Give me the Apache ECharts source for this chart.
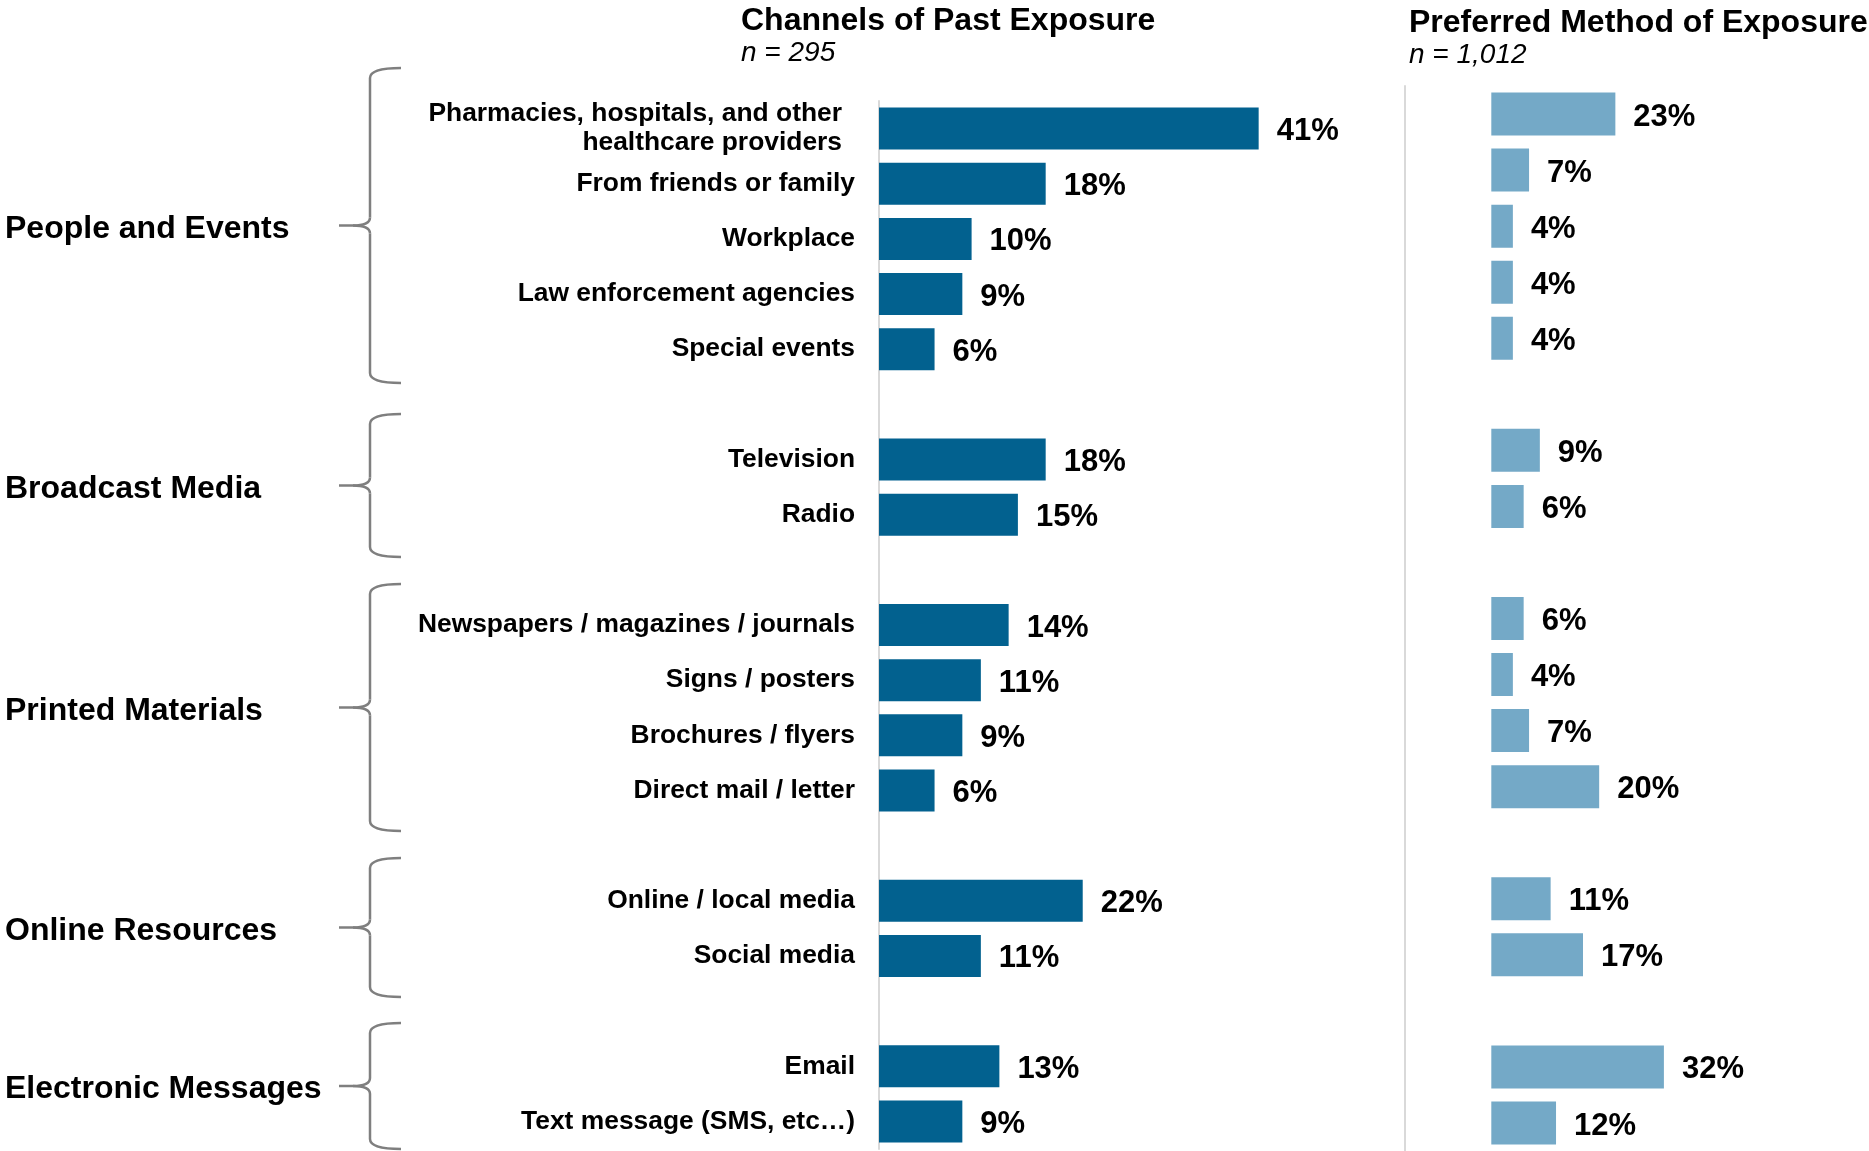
<!DOCTYPE html>
<html>
<head>
<meta charset="utf-8">
<script src="https://cdn.jsdelivr.net/npm/echarts@6/dist/echarts.min.js"></script>
<style>
  html, body { margin: 0; padding: 0; background: #fff; }
  #chartBox { width: 1869px; height: 1151px; }
</style>
</head>
<body>
<div id="chartBox"></div>
<script>
const PAST = '#02618f'
const PREF = '#74a9c7'
const FONT = 'Liberation Sans, Arial, sans-serif'

// blank entries are the gaps between the groups
const categories = [
  'Pharmacies, hospitals, and other\nhealthcare providers', 'From friends or family', 'Workplace',
  'Law enforcement agencies', 'Special events', ' ',
  'Television', 'Radio', '  ',
  'Newspapers / magazines / journals', 'Signs / posters', 'Brochures / flyers', 'Direct mail / letter', '   ',
  'Online / local media', 'Social media', '    ',
  'Email', 'Text message (SMS, etc…)'
]
const pastExposure = [41, 18, 10, 9, 6, '-', 18, 15, '-', 14, 11, 9, 6, '-', 22, 11, '-', 13, 9]
const preferredMethod = [23, 7, 4, 4, 4, '-', 9, 6, '-', 6, 4, 7, 20, '-', 11, 17, '-', 32, 12]
const groupNames = ['People and Events', 'Broadcast Media', 'Printed Materials', 'Online Resources', 'Electronic Messages']

// brace extents (px), layout only
const braceSpans = [[68, 383], [414, 557], [584, 831], [858, 997], [1023, 1149]]

function braceParts(top, bottom) {
  const mid = (top + bottom) / 2
  const x = 370, hook = 401, tip = 339
  const st = { fill: null, stroke: '#7f7f7f', lineWidth: 2.5 }
  return [
    { type: 'bezierCurve', shape: { x1: hook, y1: top, x2: x, y2: top + 10, cpx1: x, cpy1: top }, style: st },
    { type: 'line', shape: { x1: x, y1: top + 10, x2: x, y2: mid - 8 }, style: st },
    { type: 'bezierCurve', shape: { x1: x, y1: mid - 8, x2: tip + 14, y2: mid, cpx1: x, cpy1: mid }, style: st },
    { type: 'line', shape: { x1: tip + 14, y1: mid, x2: tip, y2: mid }, style: st },
    { type: 'bezierCurve', shape: { x1: tip + 14, y1: mid, x2: x, y2: mid + 8, cpx1: x, cpy1: mid }, style: st },
    { type: 'line', shape: { x1: x, y1: mid + 8, x2: x, y2: bottom - 10 }, style: st },
    { type: 'bezierCurve', shape: { x1: x, y1: bottom - 10, x2: hook, y2: bottom, cpx1: x, cpy1: bottom }, style: st }
  ]
}

const graphics = []
braceSpans.forEach((s, i) => {
  braceParts(s[0], s[1]).forEach(p => graphics.push(p))
  graphics.push({
    type: 'text',
    x: 5,
    y: (s[0] + s[1]) / 2 + 3.5,
    style: { text: groupNames[i], font: `bold 32px ${FONT}`, fill: '#000', verticalAlign: 'middle' }
  })
})

const valueLabel = {
  show: true,
  position: 'right',
  distance: 18,
  offset: [0, 3],
  formatter: p => p.value + '%',
  color: '#000',
  fontFamily: FONT,
  fontWeight: 'bold',
  fontSize: 31
}

// first label is two lines and sits a little further from the axis
const yLabels = categories.map((c, i) => i === 0
  ? { value: c, textStyle: { padding: [0, 13, 0, 0], lineHeight: 29 } }
  : c)

const baseOption = {
  animation: false,
  backgroundColor: '#fff',
  title: [
    {
      text: 'Channels of Past Exposure',
      subtext: 'n = 295',
      left: 736,
      top: 0,
      itemGap: 2,
      textStyle: { fontFamily: FONT, fontWeight: 'bold', fontSize: 32, color: '#000' },
      subtextStyle: { fontFamily: FONT, fontStyle: 'italic', fontSize: 28, color: '#000' }
    },
    {
      text: 'Preferred Method of Exposure',
      subtext: 'n = 1,012',
      left: 1404,
      top: 2,
      itemGap: 2,
      textStyle: { fontFamily: FONT, fontWeight: 'bold', fontSize: 32, color: '#000' },
      subtextStyle: { fontFamily: FONT, fontStyle: 'italic', fontSize: 28, color: '#000' }
    }
  ],
  grid: [
    { left: 879, top: 101, width: 463, height: 1048 },
    { left: 1405, top: 86, width: 356, height: 1065 }
  ],
  xAxis: [
    { gridIndex: 0, type: 'value', min: 0, max: 50, show: false },
    { gridIndex: 1, type: 'value', min: -16, max: 50, show: false }
  ],
  yAxis: [
    {
      gridIndex: 0,
      type: 'category',
      inverse: true,
      data: yLabels,
      axisLine: { show: true, lineStyle: { color: '#d9d9d9', width: 2 } },
      axisTick: { show: false },
      axisLabel: {
        margin: 24,
        color: '#000',
        fontFamily: FONT,
        fontWeight: 'bold',
        fontSize: 26.4,
        lineHeight: 30,
        padding: [8, 0, 0, 0]
      }
    },
    {
      gridIndex: 1,
      type: 'category',
      inverse: true,
      data: categories,
      axisLine: { show: true, onZero: false, lineStyle: { color: '#d9d9d9', width: 2 } },
      axisTick: { show: false },
      axisLabel: { show: false }
    }
  ],
  series: [
    {
      name: 'Channels of Past Exposure',
      type: 'bar',
      xAxisIndex: 0,
      yAxisIndex: 0,
      barWidth: 42,
      itemStyle: { color: PAST },
      label: valueLabel,
      data: pastExposure
    },
    {
      name: 'Preferred Method of Exposure',
      type: 'bar',
      xAxisIndex: 1,
      yAxisIndex: 1,
      barWidth: 43,
      itemStyle: { color: PREF },
      label: valueLabel,
      data: preferredMethod
    }
  ],
  graphic: graphics
}

const charts = echarts.init(document.getElementById('chartBox'))
charts.setOption(baseOption, true)
</script>
</body>
</html>
